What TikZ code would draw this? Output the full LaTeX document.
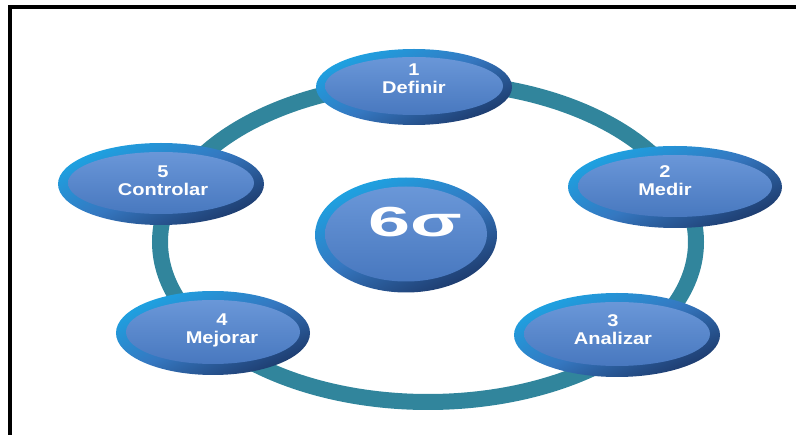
\documentclass[tikz,border=0pt]{standalone}
\usepackage{fontspec}
\usetikzlibrary{shapes.geometric}
\setmainfont{Liberation Sans}
\newfontfamily\stagefont[FakeStretch=1.18]{Liberation Sans}
\definecolor{ringteal}{HTML}{31859C}
\definecolor{rimcyan}{HTML}{1DA3E2}
\definecolor{rimmid}{HTML}{3577C0}
\definecolor{rimdark}{HTML}{1D3A6C}
\definecolor{facetop}{HTML}{6A97D8}
\definecolor{facebot}{HTML}{4878BF}
\tikzset{
  ring/.style={draw=ringteal, line width=16pt},
  rim/.style={ellipse, inner sep=0pt, top color=rimcyan, bottom color=rimdark,
              middle color=rimmid, shading angle=25},
  face/.style={ellipse, inner sep=0pt, top color=facetop, bottom color=facebot},
  stagetext/.style={text=white, align=center, inner sep=0pt,
                    font=\stagefont\bfseries\fontsize{17}{18}\selectfont},
  frame/.style={draw=black, line width=3.2pt}
}
\begin{document}
\begin{tikzpicture}[x=1pt,y=-1pt]
\useasboundingbox (0,0) rectangle (796,435);
% frame lines along the top and left edges
\coordinate (fa) at (10,435);
\coordinate (fb) at (10,7);
\coordinate (fc) at (796,7);
\draw[frame] (fa) -- (fb) -- (fc);

% the cycle ring behind the stages
\coordinate (hub) at (428,242);
\draw[ring] (hub) ellipse [x radius=268, y radius=160];

% stages: rim, face, label
\node[rim, minimum width=196pt, minimum height=76pt] (s1) at (414,87) {};
\node[face, minimum width=178pt, minimum height=58pt] (f1) at ([shift={(0,-1)}]s1.center) {};
\node[stagetext] (t1) at ([yshift=8pt]s1.center) {1\\Definir};

\node[rim, minimum width=214pt, minimum height=82pt] (s2) at (675,187) {};
\node[face, minimum width=194pt, minimum height=62pt] (f2) at ([shift={(0,-1)}]s2.center) {};
\node[stagetext] (t2) at ([xshift=-10pt,yshift=6pt]s2.center) {2\\Medir};

\node[rim, minimum width=206pt, minimum height=84pt] (s3) at (617,335) {};
\node[face, minimum width=186pt, minimum height=64pt] (f3) at ([shift={(0,-1)}]s3.center) {};
\node[stagetext] (t3) at ([xshift=-4pt,yshift=5pt]s3.center) {3\\Analizar};

\node[rim, minimum width=194pt, minimum height=84pt] (s4) at (213,333) {};
\node[face, minimum width=174pt, minimum height=64pt] (f4) at ([shift={(0,-1)}]s4.center) {};
\node[stagetext] (t4) at ([xshift=9pt,yshift=3pt]s4.center) {4\\Mejorar};

\node[rim, minimum width=206pt, minimum height=82pt] (s5) at (161,184) {};
\node[face, minimum width=186pt, minimum height=62pt] (f5) at ([shift={(0,-1)}]s5.center) {};
\node[stagetext] (t5) at ([xshift=2pt,yshift=3pt]s5.center) {5\\Controlar};

% central hub
\node[rim, minimum width=182pt, minimum height=115pt] (core) at (406,235) {};
\node[face, minimum width=162pt, minimum height=95pt] (coreface) at ([shift={(0,-1)}]core.center) {};
\node[text=white, inner sep=0pt, font=\bfseries\fontsize{42}{42}\selectfont] (coretext)
  at ([xshift=9pt,yshift=13pt]core.center) {\scalebox{1.8}[1]{6σ}};
\end{tikzpicture}
\end{document}
